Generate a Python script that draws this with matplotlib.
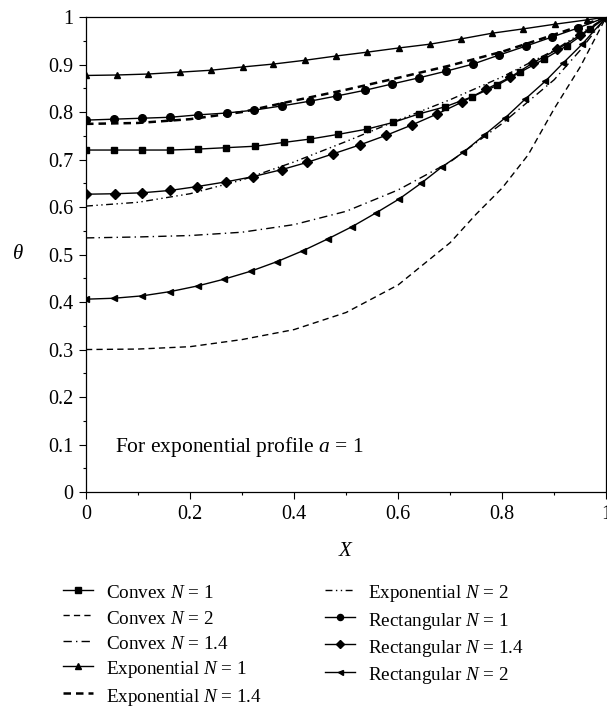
import matplotlib
matplotlib.use("Agg")
import matplotlib.pyplot as plt

plt.rcParams['font.family'] = ['Liberation Serif', 'DejaVu Serif']
plt.rcParams['mathtext.fontset'] = 'custom'
plt.rcParams['mathtext.rm'] = 'Liberation Serif'
plt.rcParams['mathtext.it'] = 'Liberation Serif:italic'

# convex profile
convex1_x = [0, 0.054, 0.108, 0.162, 0.215, 0.27, 0.325, 0.38, 0.43, 0.485, 0.54,
             0.59, 0.64, 0.69, 0.742, 0.79, 0.835, 0.88, 0.925, 0.969, 1.0]
convex1_y = [0.72, 0.72, 0.72, 0.72, 0.722, 0.725, 0.728, 0.736, 0.743, 0.753, 0.764,
             0.778, 0.796, 0.811, 0.832, 0.856, 0.884, 0.911, 0.940, 0.974, 1.0]
convex2_x = [0, 0.1, 0.2, 0.3, 0.4, 0.5, 0.6, 0.7, 0.75, 0.8, 0.85, 0.9, 0.95, 1.0]
convex2_y = [0.300, 0.301, 0.306, 0.321, 0.342, 0.378, 0.436, 0.525, 0.585, 0.640,
             0.710, 0.807, 0.895, 1.0]
convex14_x = [0, 0.1, 0.2, 0.3, 0.4, 0.5, 0.6, 0.7, 0.8, 0.9, 0.95, 1.0]
convex14_y = [0.535, 0.537, 0.540, 0.547, 0.563, 0.591, 0.636, 0.695, 0.776, 0.868,
              0.930, 1.0]

# exponential profile
exp1_x = [0, 0.06, 0.119, 0.181, 0.24, 0.302, 0.36, 0.421, 0.481, 0.54, 0.602,
          0.662, 0.721, 0.781, 0.84, 0.902, 0.963, 1.0]
exp1_y = [0.877, 0.878, 0.880, 0.884, 0.888, 0.895, 0.901, 0.909, 0.918, 0.926,
          0.935, 0.943, 0.954, 0.966, 0.975, 0.985, 0.994, 1.0]
exp14_x = [0, 0.1, 0.2, 0.3, 0.4, 0.5, 0.6, 0.7, 0.8, 0.9, 1.0]
exp14_y = [0.775, 0.777, 0.785, 0.800, 0.824, 0.847, 0.872, 0.898, 0.927, 0.963, 1.0]
exp2_x = [0, 0.1, 0.2, 0.3, 0.4, 0.5, 0.6, 0.7, 0.8, 0.9, 1.0]
exp2_y = [0.602, 0.610, 0.628, 0.657, 0.695, 0.738, 0.783, 0.826, 0.874, 0.930, 1.0]

# rectangular profile
rect1_x = [0, 0.054, 0.108, 0.162, 0.215, 0.271, 0.323, 0.377, 0.431, 0.483, 0.537,
           0.588, 0.640, 0.692, 0.744, 0.794, 0.846, 0.896, 0.946, 1.0]
rect1_y = [0.783, 0.785, 0.787, 0.789, 0.794, 0.798, 0.804, 0.813, 0.823, 0.834, 0.846,
           0.859, 0.872, 0.886, 0.901, 0.920, 0.939, 0.958, 0.977, 1.0]
rect14_x = [0, 0.056, 0.108, 0.162, 0.213, 0.269, 0.321, 0.377, 0.425, 0.475, 0.527,
            0.577, 0.627, 0.675, 0.723, 0.769, 0.815, 0.860, 0.906, 0.950, 1.0]
rect14_y = [0.627, 0.628, 0.630, 0.635, 0.643, 0.653, 0.664, 0.679, 0.694, 0.712, 0.731,
            0.751, 0.773, 0.796, 0.821, 0.848, 0.873, 0.904, 0.932, 0.962, 1.0]
rect2_x = [0, 0.054, 0.108, 0.162, 0.215, 0.265, 0.317, 0.367, 0.417, 0.465, 0.512,
           0.558, 0.602, 0.644, 0.685, 0.725, 0.765, 0.806, 0.844, 0.883, 0.917, 0.954, 1.0]
rect2_y = [0.406, 0.408, 0.413, 0.422, 0.434, 0.448, 0.465, 0.485, 0.508, 0.533, 0.559,
           0.588, 0.617, 0.650, 0.685, 0.715, 0.751, 0.788, 0.827, 0.865, 0.903, 0.943, 1.0]

fig = plt.figure(figsize=(6.07, 7.10), dpi=100)
ax = fig.add_axes([0.1417, 0.307, 0.857, 0.669])

k = dict(color='black', lw=1.0)
ax.plot(convex1_x, convex1_y, '-', marker='s', ms=5, label='Convex $N$ = 1', **k)
ax.plot(convex2_x, convex2_y, dashes=(4.5, 3), label='Convex $N$ = 2', **k)
ax.plot(convex14_x, convex14_y, dashes=(6, 3, 1, 3), label='Convex $N$ = 1.4', **k)
ax.plot(exp1_x, exp1_y, '-', marker='^', ms=5, label='Exponential $N$ = 1', **k)
ax.plot(exp14_x, exp14_y, color='black', lw=1.8, dashes=(3, 2),
        label='Exponential $N$ = 1.4')
ax.plot(exp2_x, exp2_y, dashes=(5, 2.5, 1, 2.5, 1, 2.5), label='Exponential $N$ = 2', **k)
ax.plot(rect1_x, rect1_y, '-', marker='o', ms=5.5, label='Rectangular $N$ = 1', **k)
ax.plot(rect14_x, rect14_y, '-', marker='D', ms=5, label='Rectangular $N$ = 1.4', **k)
ax.plot(rect2_x, rect2_y, '-', marker='<', ms=4.5, label='Rectangular $N$ = 2', **k)

ax.set_xlim(0, 1)
ax.set_ylim(0, 1)
ax.set_xticks([0, 0.2, 0.4, 0.6, 0.8, 1.0])
ax.set_xticklabels(['0', '0.2', '0.4', '0.6', '0.8', '1'])
ax.set_xticks([0.1, 0.3, 0.5, 0.7, 0.9], minor=True)
ax.set_yticks([i / 10 for i in range(11)])
ax.set_yticklabels(['0', '0.1', '0.2', '0.3', '0.4', '0.5', '0.6', '0.7', '0.8', '0.9', '1'])
ax.set_yticks([i / 10 + 0.05 for i in range(10)], minor=True)
ax.tick_params(which='major', direction='out', length=5, width=0.8, labelsize=14.5,
               pad=4)
ax.tick_params(which='minor', direction='out', length=2.5, width=0.8)
for s in ax.spines.values():
    s.set_linewidth(0.9)

ax.set_xlabel('$X$', fontsize=15, labelpad=13)
ax.set_ylabel(r'$\theta$', fontsize=15, rotation=0, labelpad=22, va='center')

ax.text(0.056, 0.095, 'For exponential profile $a$ = 1', fontsize=15.5, va='center')

fig.legend(loc='upper left', bbox_to_anchor=(0.104, 0.181), ncol=2, frameon=False,
           fontsize=13.8, handlelength=1.55, handletextpad=0.68, columnspacing=3.3,
           handleheight=1.3, labelspacing=0.23, borderpad=0, borderaxespad=0,
           markerscale=0.8)

fig.savefig('out.png', dpi=100)
